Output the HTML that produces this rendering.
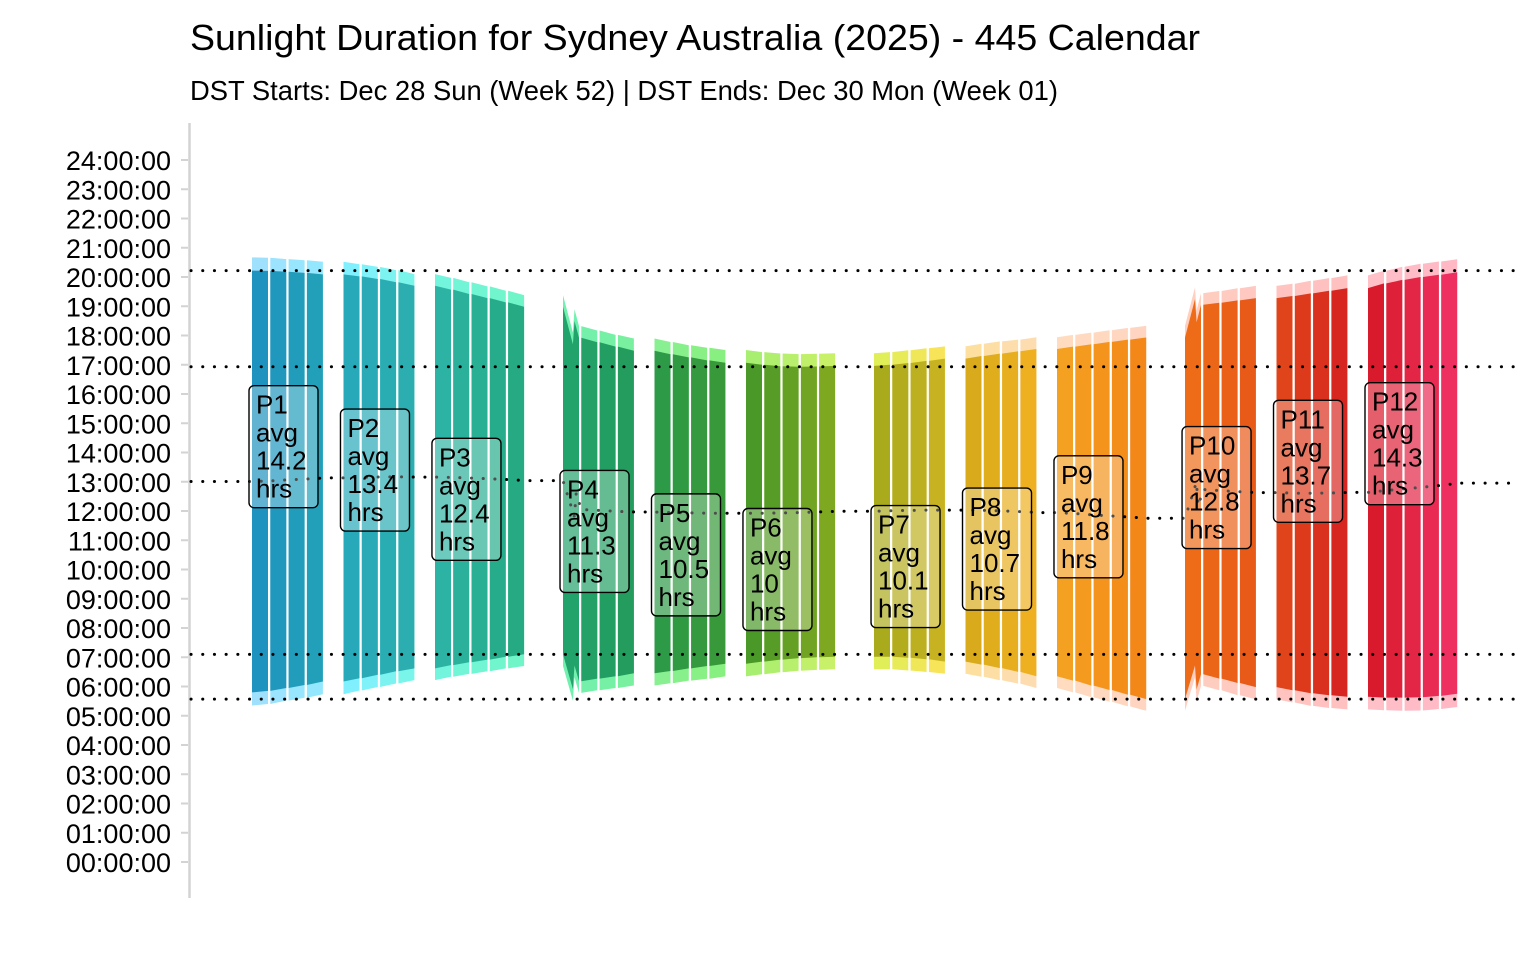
<!DOCTYPE html>
<html><head><meta charset="utf-8"><title>Sunlight Duration Sydney 2025</title>
<style>
html,body{margin:0;padding:0;background:#fff;}
svg{display:block;font-family:"Liberation Sans",sans-serif;}
</style></head>
<body>
<svg id="chart" width="1536" height="960" viewBox="0 0 1536 960" xmlns="http://www.w3.org/2000/svg">
<text x="190" y="50" font-size="36" textLength="1010" lengthAdjust="spacingAndGlyphs" fill="#000">Sunlight Duration for Sydney Australia (2025) - 445 Calendar</text>
<text x="190" y="100" font-size="28" textLength="868" lengthAdjust="spacingAndGlyphs" fill="#000">DST Starts: Dec 28 Sun (Week 52) | DST Ends: Dec 30 Mon (Week 01)</text>
<line x1="189.5" y1="123" x2="189.5" y2="898" stroke="#d3d3d3" stroke-width="2.5"/>
<g id="yaxis"></g>
<g id="bars"></g>
<g id="refs"></g>
<g id="labels"></g>
</svg>
<script>
// ---- data ----
const periodNames = ["P1","P2","P3","P4","P5","P6","P7","P8","P9","P10","P11","P12"];
const weeksPerPeriod = [4,4,5,4,4,5,4,4,5,4,4,5];
const avgHours = [14.2,13.4,12.4,11.3,10.5,10,10.1,10.7,11.8,12.8,13.7,14.3];
// local-time sunrise / sunset at each week boundary (53 boundaries, decimal hours)
const sunrise = [5.80,5.85,5.95,6.05,6.17,6.28,6.40,6.52,6.62,6.73,6.83,6.92,7.02,7.10,
  6.18,6.27,6.35,6.45,6.53,6.62,6.70,6.78,6.85,6.92,6.97,7.00,7.02,7.02,6.98,6.93,6.85,
  6.75,6.63,6.50,6.35,6.20,6.03,5.88,5.72,5.57,6.42,6.27,6.12,5.98,5.87,5.77,5.70,5.65,
  5.62,5.62,5.63,5.68,5.75];
const sunset = [20.22,20.21,20.18,20.14,20.09,20.02,19.93,19.82,19.70,19.57,19.42,19.28,19.13,18.98,
  17.92,17.77,17.62,17.48,17.36,17.25,17.15,17.07,17.00,16.95,16.93,16.94,16.96,17.00,17.06,17.13,17.21,
  17.30,17.38,17.46,17.54,17.62,17.70,17.78,17.86,17.93,19.05,19.12,19.20,19.28,19.35,19.44,19.53,19.62,
  19.78,19.90,20.00,20.08,20.16];
// civil twilight length in minutes at each boundary
const twilightMin = [27,27,26,26,26,25,25,25,24,24,24,24,24,24,
  24,24,24,25,25,25,26,26,26,26,26,26,26,26,26,26,25,
  25,25,24,24,24,24,24,24,24,24,24,25,25,25,26,26,26,
  26,27,27,27,27];
// DST transitions: week index and shift (local hours jump)
const dstWeeks = [13,39];
const dstShift = [-1,1];
const yTicks = ["00:00:00","01:00:00","02:00:00","03:00:00","04:00:00","05:00:00","06:00:00","07:00:00","08:00:00","09:00:00","10:00:00","11:00:00","12:00:00","13:00:00","14:00:00","15:00:00","16:00:00","17:00:00","18:00:00","19:00:00","20:00:00","21:00:00","22:00:00","23:00:00","24:00:00"];

// ---- style ----
const darkPal = [["#1f93bf","#23a0b9"],["#27a9b9","#2cadb0"],["#2db3a3","#25aa83"],["#23a36c","#239c5e"],["#2d9a48","#37993a"],["#4a9828","#7ea820"],["#a9aa1c","#c7b322"],["#d9ab1c","#eeb020"],["#f4a020","#f38818"],["#ee6c18","#e85a18"],["#e0441a","#d72620"],["#d81a2c","#ee3060"]];
const lightPal = [["#9fe1fd","#93e8ff"],["#80f0ff","#7af5ea"],["#72f5dc","#70f5c8"],["#72f0b0","#78f0a0"],["#88f090","#88f080"],["#a8ee70","#c8f068"],["#e0ee58","#f8e458"],["#fde0a0","#fddcb0"],["#ffdcc0","#ffd4c0"],["#ffcfc0","#ffc8c0"],["#ffc4c0","#ffc0c0"],["#ffc0c8","#ffb8c4"]];
const NS="http://www.w3.org/2000/svg";
const Y0=862, PXH=(862-160)/24, X0=252, SLOT=18.295, BW=16;
const y = h => Y0 - h*PXH;
function mix(a,b,t){const pa=[1,3,5].map(i=>parseInt(a.substr(i,2),16)),pb=[1,3,5].map(i=>parseInt(b.substr(i,2),16));return "rgb("+pa.map((v,i)=>Math.round(v+(pb[i]-v)*t)).join(",")+")";}
function el(tag,attrs,parent){const e=document.createElementNS(NS,tag);for(const k in attrs)e.setAttribute(k,attrs[k]);parent.appendChild(e);return e;}

// y axis
const ya=document.getElementById("yaxis");
yTicks.forEach((t,i)=>{
  const ty=y(i);
  const tk=el("line",{x1:181,x2:188,y1:ty,y2:ty,stroke:"#d3d3d3","stroke-width":2},ya);
  
  
  const tx=el("text",{x:171,y:ty+10,"text-anchor":"end","font-size":27,fill:"#000"},ya);
  
  
  tx.textContent=t;
});

// week geometry
const weekPeriod=[],weekInPeriod=[];
periodNames.forEach((p,pi)=>{for(let k=0;k<weeksPerPeriod[pi];k++){weekPeriod.push(pi);weekInPeriod.push(k);}});
function weekX(w){const pi=weekPeriod[w];const q=Math.floor(pi/3);return X0+(w+pi+q)*SLOT;}
// returns list of [fraction, valueAccessor] samples for a week
function samples(w,arr){
  const a=arr[w],b=arr[w+1];const di=dstWeeks.indexOf(w);
  if(di<0) return [[0,a],[1,b]];
  const s=dstShift[di]; const f1=0.62,f2=0.72;
  const bPre=b+s; // end value before the clock change
  const v1=a+(bPre-a)*f1, v2=b+(a-s-b)*(1-f2);
  return [[0,a],[f1,v1],[f2,v2],[1,b]];
}
const bars=document.getElementById("bars");
const nW=weekPeriod.length;
const dawn=sunrise.map((v,i)=>v-twilightMin[i]/60);
const dusk=sunset.map((v,i)=>v+twilightMin[i]/60);
let minRise=99,maxRise=-99,minSet=99,maxSet=-99;
const midPts=[];
for(let w=0;w<nW;w++){
  const pi=weekPeriod[w],n=weeksPerPeriod[pi],t=n>1?weekInPeriod[w]/(n-1):0;
  const x0=weekX(w);
  const sr=samples(w,sunrise),ss=samples(w,sunset),dw=samples(w,dawn),dk=samples(w,dusk);
  const poly=(top,bot)=>top.map(p=>(x0+p[0]*BW).toFixed(1)+","+y(p[1]).toFixed(1)).concat(bot.slice().reverse().map(p=>(x0+p[0]*BW).toFixed(1)+","+y(p[1]).toFixed(1))).join(" ");
  const lp=el("polygon",{points:poly(dk,dw),fill:mix(lightPal[pi][0],lightPal[pi][1],t)},bars);
  
  
  const dp=el("polygon",{points:poly(ss,sr),fill:mix(darkPal[pi][0],darkPal[pi][1],t)},bars);
  
  
  sr.forEach(p=>{minRise=Math.min(minRise,p[1]);maxRise=Math.max(maxRise,p[1]);});
  ss.forEach(p=>{minSet=Math.min(minSet,p[1]);maxSet=Math.max(maxSet,p[1]);});
  sr.forEach((p,k)=>midPts.push([x0+p[0]*(BW+2.3),(p[1]+ss[k][1])/2]));
}
// reference lines
const refs=document.getElementById("refs");
[maxSet,minSet,maxRise,minRise].forEach((v,i)=>{
  const l=el("line",{x1:191,x2:1516,y1:y(v),y2:y(v),stroke:"#000","stroke-width":3,"stroke-linecap":"round","stroke-dasharray":"0.1 11.6"},refs);
  
  
});
const mp=[[191,midPts[0][1]]].concat(midPts).concat([[1516,midPts[midPts.length-1][1]]]);
const ml=el("polyline",{points:mp.map(p=>p[0].toFixed(1)+","+y(p[1]).toFixed(1)).join(" "),fill:"none",stroke:"#000","stroke-width":3,"stroke-linecap":"round","stroke-dasharray":"0.1 11.6"},refs);



// labels
const lab=document.getElementById("labels");
let wStart=0;
periodNames.forEach((p,pi)=>{
  const bx=weekX(wStart)-3, cy=y(avgHours[pi]), by=cy-61;
  const g=el("g",{},lab);
  
  
  const r=el("rect",{x:bx,y:by,width:69,height:122,rx:5,fill:"rgba(255,255,255,0.3)",stroke:"#000","stroke-width":1.4},g);
  
  
  [p,"avg",String(avgHours[pi]),"hrs"].forEach((s,k)=>{
    const tx=el("text",{x:bx+7,y:by+28+k*28,"font-size":26,fill:"#000"},g);
    
    
    tx.textContent=s;
  });
  wStart+=weeksPerPeriod[pi];
});
</script>
</body></html>
